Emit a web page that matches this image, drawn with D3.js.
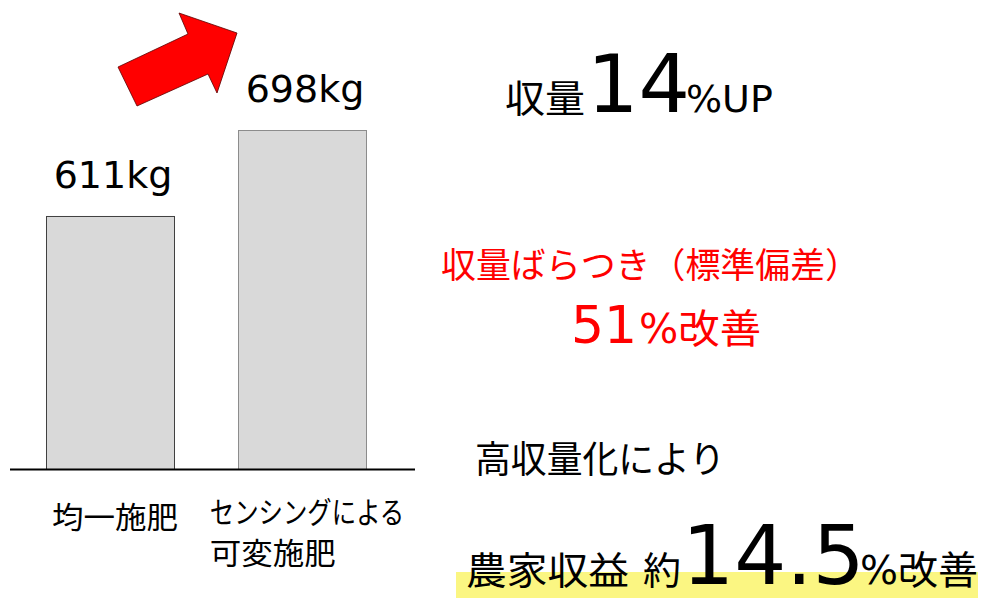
<!DOCTYPE html>
<html>
<head>
<meta charset="utf-8">
<script src="https://cdn.jsdelivr.net/npm/d3@7"></script>
<style>
  body { margin: 0; background: #fff; }
  svg text { font-family: "DejaVu Sans", "Noto Sans CJK JP", sans-serif; }
</style>
</head>
<body>
<div id="chart"></div>
<script>
// data
const categories = ["均一施肥", "センシングによる|可変施肥"];
const yields = [611, 698];
const unit = "kg";

const width = 985, height = 598;

const svg = d3.select("#chart").append("svg")
    .attr("width", width)
    .attr("height", height);

// scales (y axis is not zero based in the source slide)
const x = d3.scaleBand()
    .domain(categories)
    .range([14, 398])
    .paddingInner(1 / 3)
    .paddingOuter(1 / 6);

const y = d3.scaleLinear()
    .domain([355, 698])
    .range([469, 130]);

// bars
svg.selectAll(".bar")
    .data(yields)
    .enter().append("rect")
    .attr("class", "bar")
    .attr("x", (d, i) => x(categories[i]) + 0.5)
    .attr("y", d => y(d) + 0.5)
    .attr("width", x.bandwidth())
    .attr("height", d => y.range()[0] - y(d))
    .attr("fill", "#d9d9d9")
    .attr("stroke", (d, i) => i === 0 ? "#404040" : "#8c8c8c")
    .attr("stroke-width", 1);

// baseline
svg.append("line")
    .attr("x1", 10).attr("x2", 415)
    .attr("y1", y.range()[0] + 0.5).attr("y2", y.range()[0] + 0.5)
    .attr("stroke", "#000")
    .attr("stroke-width", 2);

// value labels
svg.selectAll(".val")
    .data(yields)
    .enter().append("text")
    .attr("class", "val")
    .attr("x", (d, i) => x(categories[i]) + x.bandwidth() / 2 + 3)
    .attr("y", d => y(d) - 28)
    .attr("text-anchor", "middle")
    .attr("font-size", 38)
    .attr("fill", "#000")
    .text(d => d + unit);

// category labels, Meiryo-like: kana narrower than kanji
const lineLen = s => s.length * (/[\u3040-\u30ff]/.test(s) ? 24.3 : 31.5);
categories.forEach((c, i) => {
    let lines = c.split("|");
    let cx = x(c) + x.bandwidth() / 2 + 5;
    let x0 = cx - lineLen(lines[0]) / 2;
    let y0 = lines.length > 1 ? 523 : 528;
    lines.forEach((l, j) => {
        svg.append("text")
            .attr("x", x0)
            .attr("y", y0 + 41 * j)
            .attr("font-size", 30)
            .attr("textLength", lineLen(l))
            .attr("lengthAdjust", "spacingAndGlyphs")
            .attr("fill", "#000")
            .text(l);
    });
});

// arrow
const arrow = [[118, 67], [137, 106], [208, 74], [217, 93], [237, 33], [179, 13], [188, 34]];
svg.append("path")
    .attr("d", d3.line()(arrow) + "Z")
    .attr("fill", "#ff0000")
    .attr("stroke", "#5a0000")
    .attr("stroke-width", 0.8);

// right side messages
function piece(px, py, size, txt, color, len) {
    let t = svg.append("text")
        .attr("x", px).attr("y", py)
        .attr("font-size", size)
        .attr("fill", color || "#000")
        .text(txt);
    if (len) t.attr("textLength", len).attr("lengthAdjust", "spacingAndGlyphs");
    return t;
}

piece(505, 112, 38, "収量", "#000", 80);
piece(587, 112, 81, "14");
piece(686, 112, 38, "%UP");

piece(441, 278, 35, "収量ばらつき（標準偏差）", "#ff0000", 419);
piece(571, 343, 52, "51", "#ff0000");
piece(639, 343, 40, "%改善", "#ff0000", 122);

piece(475, 473, 37, "高収量化により", "#000", 250);

// highlight band
svg.append("rect")
    .attr("x", 456).attr("y", 572)
    .attr("width", 522).attr("height", 26)
    .attr("fill", "#fbf682");

piece(466, 584, 38, "農家収益", "#000", 163);
piece(643, 584, 38, "約");
piece(682, 584, 82, "14.5");
piece(860, 584, 39, "%改善", "#000", 118);
</script>
</body>
</html>
